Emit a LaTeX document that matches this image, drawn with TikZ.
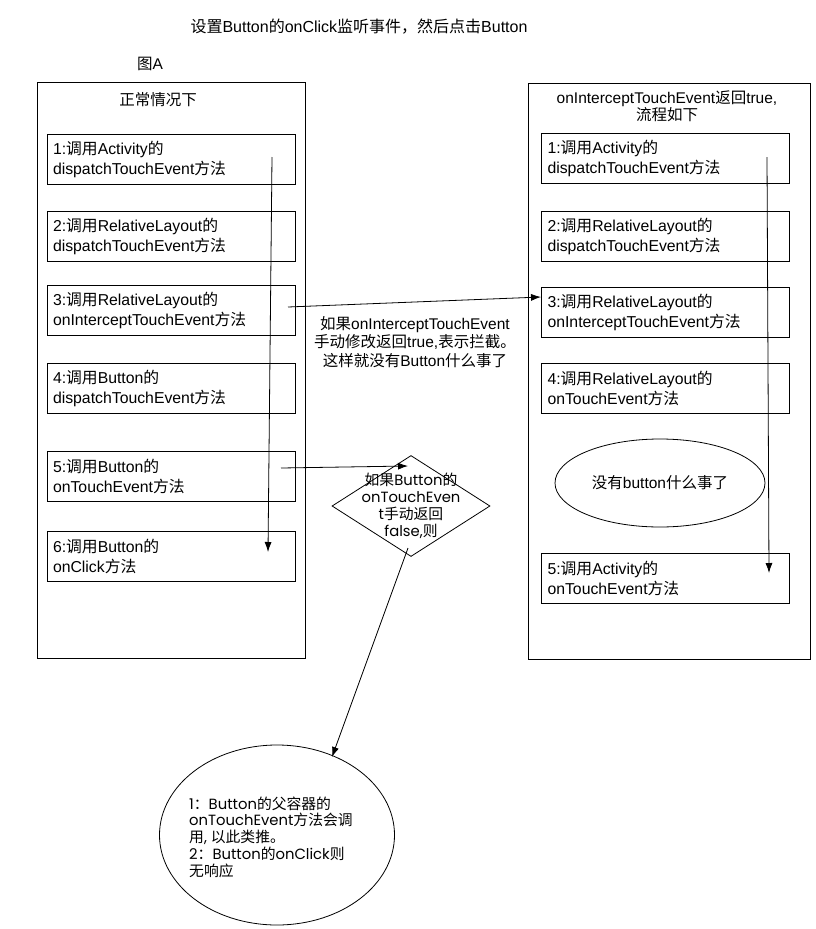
\documentclass[tikz,border=0pt]{standalone}
\usepackage{fontspec}
\setmainfont{Liberation Sans}
\newfontfamily\cjkfont{Noto Sans CJK SC}
\newfontfamily\gothfont{Poppins}
\usetikzlibrary{arrows.meta,shapes.geometric}
\newXeTeXintercharclass\mycjkclass
\makeatletter
\count@="4E00
\loop
  \XeTeXcharclass\count@=\mycjkclass
  \ifnum\count@<"9FFF \advance\count@ by 1
\repeat
\makeatother
\XeTeXcharclass"FF0C=\mycjkclass
\XeTeXcharclass"FF1A=\mycjkclass
\XeTeXcharclass"3002=\mycjkclass
\def\latinfont{\rmfamily}
\XeTeXinterchartokenstate=1
\XeTeXinterchartoks 0 \mycjkclass = {\cjkfont}
\XeTeXinterchartoks 4095 \mycjkclass = {\cjkfont}
\XeTeXinterchartoks \mycjkclass 0 = {\latinfont}
\XeTeXinterchartoks \mycjkclass 4095 = {\latinfont}
\tikzset{
  frame/.style={draw, line width=0.8pt, minimum height=576pt, inner sep=0pt},
  box/.style={draw, line width=0.8pt, minimum height=50pt, text width=236pt,
    inner xsep=6pt, inner ysep=0pt, align=left, font=\fontsize{15.8}{20}\selectfont},
  plain/.style={inner sep=0pt, font=\fontsize{15.5}{19}\selectfont},
  goth/.style={inner sep=0pt, font={\def\latinfont{\gothfont}\gothfont\fontsize{14.8}{16.8}\selectfont}},
  arr/.style={-{Latex[length=10pt,width=7pt]}, line width=0.8pt},
}
\begin{document}
\begin{tikzpicture}[x=1pt,y=-1pt]
\useasboundingbox (0,0) rectangle (815,929);
% titles
\node[plain, font=\fontsize{16}{19}\selectfont] (title) at (359,27) {设置Button的onClick监听事件，然后点击Button};
\node[plain] (figA) at (150,64) {图A};
% left frame
\node[frame, minimum width=268pt] (LB) at (171,370) {};
\node[plain] (LBt) at (158,100) {正常情况下};
\node[box] (L1) at (171,159.5) {1:调用Activity的\\dispatchTouchEvent方法};
\node[box] (L2) at (171,236) {2:调用RelativeLayout的\\dispatchTouchEvent方法};
\node[box] (L3) at (171,310.5) {3:调用RelativeLayout的\\onInterceptTouchEvent方法};
\node[box] (L4) at (171,388) {4:调用Button的\\dispatchTouchEvent方法};
\node[box] (L5) at (171,476) {5:调用Button的\\onTouchEvent方法};
\node[box] (L6) at (171,556.5) {6:调用Button的\\onClick方法};
% right frame
\node[frame, minimum width=282pt] (RB) at (669,371) {};
\node[plain, align=center, font=\fontsize{15.5}{16.5}\selectfont] (RBt) at (667,106) {onInterceptTouchEvent返回true,\\流程如下};
\node[box] (R1) at (665.5,158.5) {1:调用Activity的\\dispatchTouchEvent方法};
\node[box] (R2) at (665.5,236.5) {2:调用RelativeLayout的\\dispatchTouchEvent方法};
\node[box] (R3) at (665.5,312) {3:调用RelativeLayout的\\onInterceptTouchEvent方法};
\node[box] (R4) at (665.5,388) {4:调用RelativeLayout的\\onTouchEvent方法};
\node[draw, ellipse, line width=0.8pt, minimum width=210pt, minimum height=88pt, inner sep=0pt, font=\fontsize{15.5}{19}\selectfont] (E1) at (660,483) {没有button什么事了};
\node[box] (R5) at (665.5,578.5) {5:调用Activity的\\onTouchEvent方法};
% middle note
\node[plain, align=center, font=\fontsize{15.5}{18.5}\selectfont] (note) at (415,342) {如果onInterceptTouchEvent\\手动修改返回true,表示拦截。\\这样就没有Button什么事了};
% diamond
\node[draw, diamond, line width=0.8pt, minimum width=158pt, minimum height=101pt, inner sep=0pt] (D) at (411,506) {};
\node[goth, align=center] (Dt) at (411,506) {如果Button的\\onTouchEven\\t手动返回\\false,则};
% bottom ellipse
\node[draw, ellipse, line width=0.8pt, minimum width=235pt, minimum height=180pt, inner sep=0pt] (E2) at (277,835) {};
\node[goth, align=left, anchor=west] (E2t) at (189,837) {1：Button的父容器的\\onTouchEvent方法会调\\用, 以此类推。\\2：Button的onClick则\\无响应};
% connector end points
\coordinate (a1s) at (272,157);
\coordinate (a1e) at (268,552);
\coordinate (a2s) at (288,307);
\coordinate (a2e) at (541,297);
\coordinate (a3s) at (281,468);
\coordinate (a3e) at (408,466);
\coordinate (a4s) at (408,548);
\coordinate (a4e) at (332,757);
\coordinate (a5s) at (767,157);
\coordinate (a5e) at (769,573);
\draw[arr] (a1s) -- (a1e);
\draw[arr] (a2s) -- (a2e);
\draw[arr] (a3s) -- (a3e);
\draw[arr] (a4s) -- (a4e);
\draw[arr] (a5s) -- (a5e);
\end{tikzpicture}
\end{document}
